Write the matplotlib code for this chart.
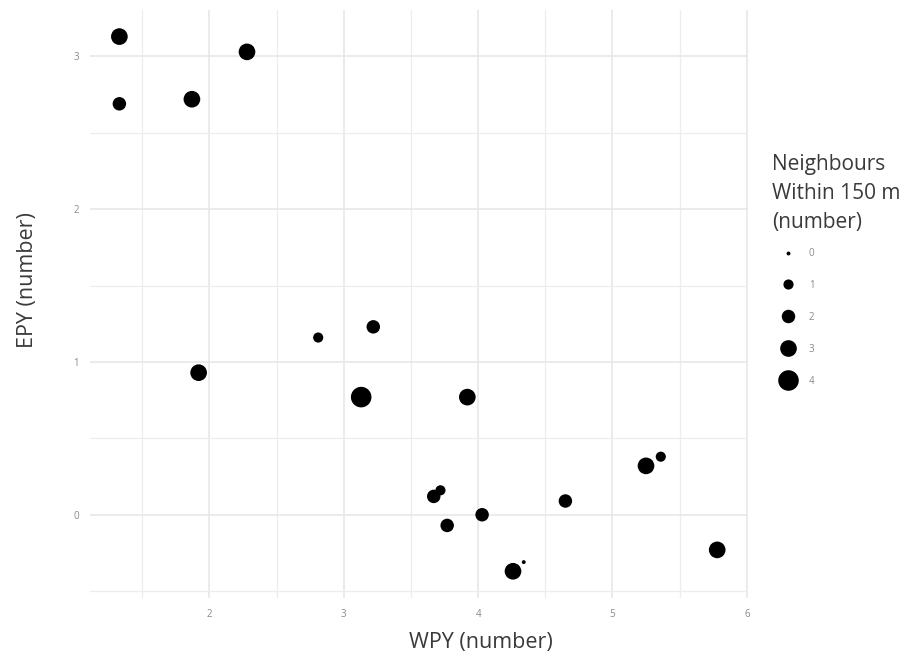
import matplotlib
matplotlib.use("Agg")
import matplotlib.pyplot as plt
from matplotlib.lines import Line2D
from matplotlib.ticker import MultipleLocator

plt.rcParams['font.family'] = ['Open Sans', 'DejaVu Sans']

# WPY, EPY and number of neighbours within 150 m
wpy = [1.33, 1.33, 1.87, 2.28, 2.81, 3.22, 1.92, 3.13, 3.92, 3.67,
       3.72, 3.77, 4.03, 4.26, 4.34, 4.65, 5.25, 5.36, 5.78]
epy = [3.13, 2.69, 2.72, 3.03, 1.16, 1.23, 0.93, 0.77, 0.77, 0.12,
       0.16, -0.07, 0.00, -0.37, -0.31, 0.09, 0.32, 0.38, -0.23]
neighbours = [3, 2, 3, 3, 1, 2, 3, 4, 3, 2,
              1, 2, 2, 3, 0, 2, 3, 1, 3]
levels = [0, 1, 2, 3, 4]

# marker diameter (points) per neighbour count
diam = {0: 2.8, 1: 7.3, 2: 9.7, 3: 12.0, 4: 14.8}

fig = plt.figure(figsize=(9.09, 6.57), dpi=100)
ax = fig.add_axes([0.0988, 0.0898, 0.7242, 0.8952])

ax.scatter(wpy, epy, s=[diam[n] ** 2 for n in neighbours],
           color='black', edgecolors='none', zorder=3)

ax.set_xlim(1.11, 6.01)
ax.set_ylim(-0.545, 3.305)
ax.xaxis.set_major_locator(MultipleLocator(1))
ax.xaxis.set_minor_locator(MultipleLocator(0.5))
ax.yaxis.set_major_locator(MultipleLocator(1))
ax.yaxis.set_minor_locator(MultipleLocator(0.5))

ax.grid(which='major', color='#e6e6e6', linewidth=1.1)
ax.grid(which='minor', color='#ededed', linewidth=0.9)
ax.set_axisbelow(True)
for sp in ax.spines.values():
    sp.set_visible(False)
ax.tick_params(which='both', length=0, labelsize=7, labelcolor='#8a8a8a', pad=8)

ax.set_xlabel('WPY (number)', fontsize=15.5, color='#3a3a3a')
ax.set_ylabel('EPY (number)', fontsize=15.5, color='#3a3a3a')
ax.xaxis.set_label_coords(0.594, -0.058)
ax.yaxis.set_label_coords(-0.078, 0.541)

handles = [Line2D([], [], marker='o', linestyle='none', color='black',
                  markeredgewidth=0, markersize=diam[n]) for n in levels]
leg = fig.legend(handles, [str(n) for n in levels],
                 title='Neighbours\nWithin 150 m\n(number)',
                 loc='upper left', bbox_to_anchor=(0.845, 0.772),
                 frameon=False, fontsize=7, title_fontsize=15,
                 labelcolor='#8a8a8a', labelspacing=2.15,
                 handlelength=3.3, handletextpad=0.5, borderaxespad=0)
leg._legend_box.align = 'left'
leg._legend_box.sep = 11
leg.get_title().set_color('#3a3a3a')
leg.get_title().set_linespacing(1.5)

fig.savefig('out.png', dpi=100, facecolor='white')
